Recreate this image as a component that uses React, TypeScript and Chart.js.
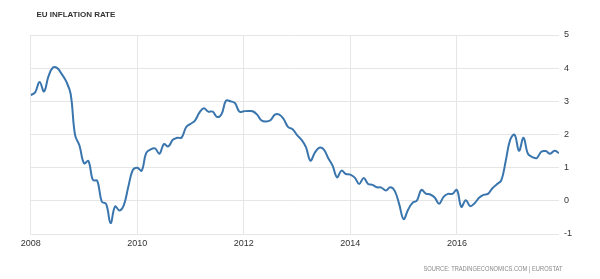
import React, { useEffect, useRef } from "react";
import { Chart, registerables } from "chart.js";

Chart.register(...registerables);

const startYear = 2008;
const y2008 = [3.19, 3.27, 3.58, 3.3, 3.75, 4.02, 4.0, 3.82, 3.6, 3.22, 1.98, 1.66];
const y2009 = [1.13, 1.2, 0.63, 0.6, -0.02, -0.1, -0.67, -0.17, -0.29, -0.12, 0.43, 0.93];
const y2010 = [1.0, 0.91, 1.44, 1.55, 1.58, 1.42, 1.71, 1.64, 1.84, 1.9, 1.91, 2.22];
const y2011 = [2.32, 2.42, 2.66, 2.79, 2.69, 2.69, 2.53, 2.62, 3.02, 3.0, 2.95, 2.69];
const y2012 = [2.7, 2.71, 2.7, 2.6, 2.42, 2.39, 2.43, 2.6, 2.6, 2.46, 2.22, 2.16];
const y2013 = [1.98, 1.84, 1.62, 1.21, 1.45, 1.6, 1.55, 1.29, 1.06, 0.71, 0.91, 0.81];
const y2014 = [0.79, 0.7, 0.51, 0.69, 0.51, 0.48, 0.41, 0.4, 0.31, 0.41, 0.3, -0.1];
const y2015 = [-0.55, -0.27, -0.06, 0.01, 0.33, 0.22, 0.19, 0.1, -0.09, 0.12, 0.21, 0.21];
const y2016 = [0.33, -0.18, 0.02, -0.16, -0.07, 0.09, 0.18, 0.21, 0.38, 0.5, 0.62, 1.2];
const y2017 = [1.84, 1.99, 1.51, 1.9, 1.42, 1.32, 1.29, 1.48, 1.5, 1.42, 1.51, 1.44];

const yearlyValues = [y2008, y2009, y2010, y2011, y2012, y2013, y2014, y2015, y2016, y2017];
const xTickYears = [2008, 2010, 2012, 2014, 2016];
const yTicks = [-1, 0, 1, 2, 3, 4, 5];

const titleText = "EU INFLATION RATE";
const sourceText = "SOURCE: TRADINGECONOMICS.COM | EUROSTAT";

export default function App() {
  const canvasRef = useRef<HTMLCanvasElement | null>(null);

  useEffect(() => {
    const canvas = canvasRef.current;
    if (!canvas) return;
    const points: { x: number; y: number }[] = [];
    yearlyValues.forEach((arr, yi) => {
      arr.forEach((v, mi) => {
        points.push({ x: startYear + yi + mi / 12, y: v });
      });
    });
    const lastX = points[points.length - 1].x;
    const tickFont = { family: "'Liberation Sans', Arial, sans-serif", size: 9 };
    const chart = new Chart(canvas, {
      type: "line",
      data: {
        datasets: [
          {
            data: points,
            borderColor: "#3a76ad",
            borderWidth: 2,
            pointRadius: 0,
            tension: 0.4,
            fill: false,
          },
        ],
      },
      options: {
        animation: false,
        responsive: false,
        maintainAspectRatio: false,
        layout: { padding: { left: 30.7, top: 35, right: 0, bottom: 0 } },
        plugins: {
          legend: { display: false },
          tooltip: { enabled: false },
          title: { display: false },
        },
        scales: {
          x: {
            type: "linear",
            min: startYear,
            max: lastX,
            afterFit: (s: any) => {
              s.height = 45;
            },
            afterBuildTicks: (s: any) => {
              s.ticks = xTickYears.map((v) => ({ value: v }));
            },
            ticks: {
              includeBounds: false,
              stepSize: 2,
              autoSkip: false,
              maxRotation: 0,
              padding: 4,
              color: "#333",
              font: tickFont,
              callback: (v: any) => String(v),
            },
            grid: { color: "#e6e6e6", drawTicks: false, lineWidth: 1 },
            border: { display: false },
          },
          y: {
            position: "right",
            min: yTicks[0],
            max: yTicks[yTicks.length - 1],
            afterFit: (s: any) => {
              s.width = 41;
            },
            afterBuildTicks: (s: any) => {
              s.ticks = yTicks.map((v) => ({ value: v }));
            },
            ticks: {
              stepSize: 1,
              padding: 5,
              color: "#333",
              font: tickFont,
              callback: (v: any) => String(v),
            },
            grid: { color: "#e6e6e6", drawTicks: false, lineWidth: 1 },
            border: { display: false },
          },
        },
      },
    } as any);
    return () => chart.destroy();
  }, []);

  return (
    <div
      style={{
        position: "fixed",
        left: 0,
        top: 0,
        width: 600,
        height: 279,
        background: "#fff",
        overflow: "hidden",
      }}
    >
      <canvas
        ref={canvasRef}
        width={600}
        height={279}
        style={{ position: "absolute", left: 0, top: 0, width: 600, height: 279 }}
      />
      <div
        style={{
          position: "absolute",
          left: 36.5,
          top: 11,
          fontFamily: "'Liberation Sans', Arial, sans-serif",
          fontWeight: "bold",
          fontSize: 8,
          lineHeight: "8px",
          color: "#333",
          whiteSpace: "nowrap",
        }}
      >
        {titleText}
      </div>
      <div
        style={{
          position: "absolute",
          right: 37.7,
          top: 265,
          fontFamily: "'Liberation Sans', Arial, sans-serif",
          fontSize: 7,
          lineHeight: "7px",
          color: "#888",
          whiteSpace: "nowrap",
          transform: "scaleX(0.82)",
          transformOrigin: "right center",
        }}
      >
        {sourceText}
      </div>
    </div>
  );
}
